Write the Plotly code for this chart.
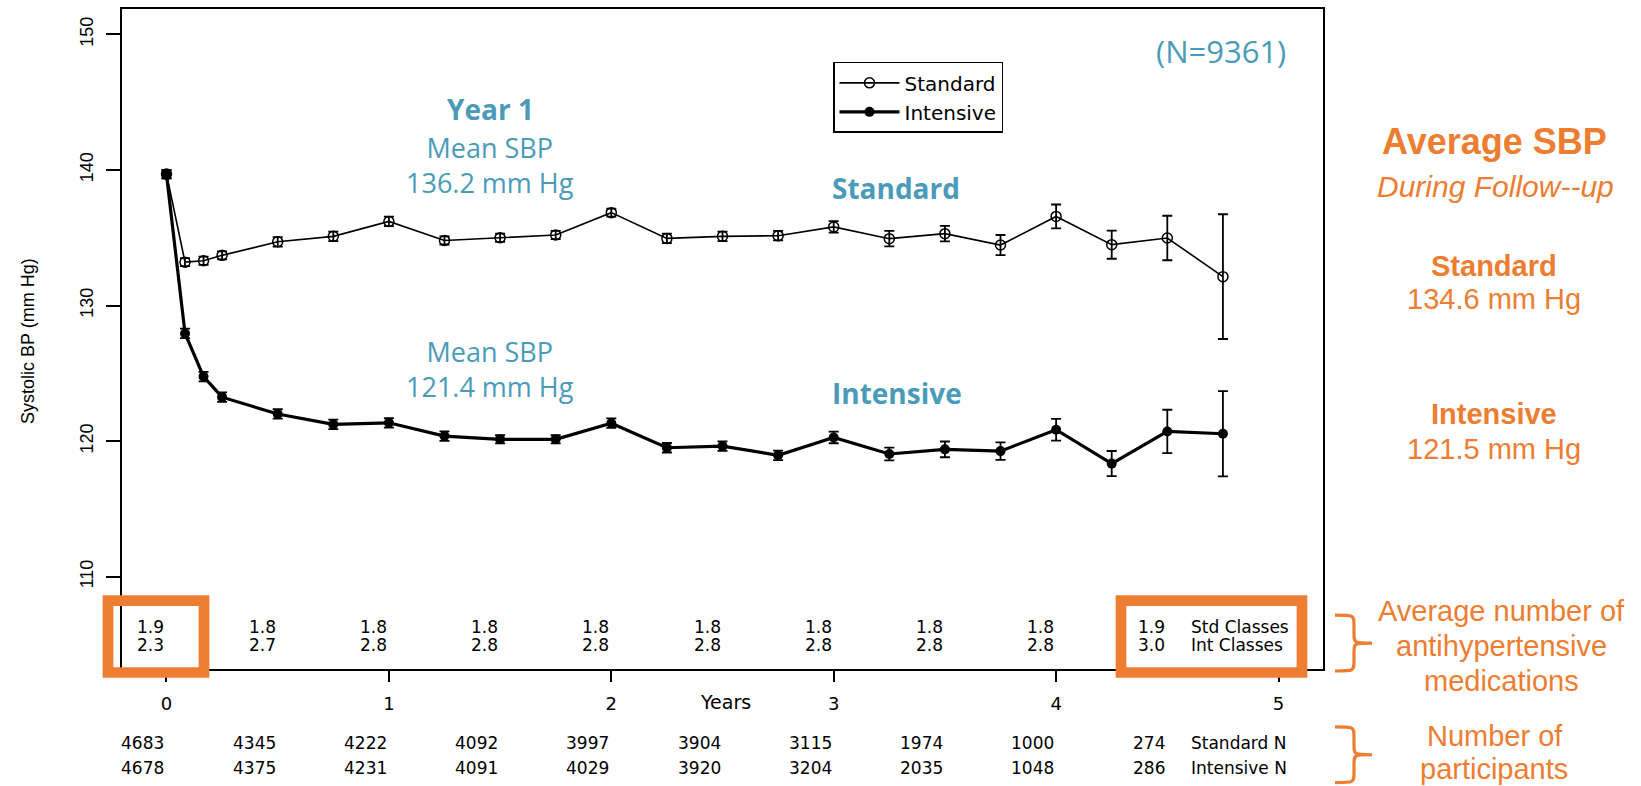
import plotly.graph_objects as go

# ---------------- data ----------------
years = [0, 1/12, 2/12, 3/12, 0.5, 0.75, 1.0, 1.25, 1.5, 1.75, 2.0, 2.25,
         2.5, 2.75, 3.0, 3.25, 3.5, 3.75, 4.0, 4.25, 4.5, 4.75]
standard_sbp = [139.7, 133.2, 133.3, 133.7, 134.7, 135.1, 136.2, 134.8, 135.0, 135.2, 136.85, 134.95,
                135.1, 135.15, 135.8, 134.93, 135.3, 134.46, 136.57, 134.49, 134.98, 132.13]
standard_err = [0.3, 0.3, 0.3, 0.3, 0.35, 0.35, 0.35, 0.3, 0.3, 0.3, 0.3, 0.35,
                0.35, 0.35, 0.43, 0.57, 0.57, 0.74, 0.88, 1.04, 1.64, 4.6]
intensive_sbp = [139.66, 127.94, 124.76, 123.24, 122.0, 121.23, 121.35, 120.37, 120.13, 120.13, 121.32, 119.51,
                 119.63, 118.95, 120.27, 119.05, 119.39, 119.26, 120.84, 118.34, 120.71, 120.54]
intensive_err = [0.3, 0.35, 0.35, 0.35, 0.35, 0.35, 0.35, 0.35, 0.3, 0.3, 0.35, 0.35,
                 0.35, 0.35, 0.43, 0.47, 0.58, 0.65, 0.8, 0.93, 1.6, 3.14]

label_years = [0, 0.5, 1.0, 1.5, 2.0, 2.5, 3.0, 3.5, 4.0, 4.5]
std_classes = ["1.9", "1.8", "1.8", "1.8", "1.8", "1.8", "1.8", "1.8", "1.8", "1.9"]
int_classes = ["2.3", "2.7", "2.8", "2.8", "2.8", "2.8", "2.8", "2.8", "2.8", "3.0"]
standard_n = ["4683", "4345", "4222", "4092", "3997", "3904", "3115", "1974", "1000", "274"]
intensive_n = ["4678", "4375", "4231", "4091", "4029", "3920", "3204", "2035", "1048", "286"]

x_ticks = [0, 1, 2, 3, 4, 5]
y_ticks = [110, 120, 130, 140, 150]

# ---------------- layout helpers ----------------
W_FIG, H_FIG = 1641, 786
L, R, T, B = 122, 1323, 7, 669
PW, PH = R - L, B - T

def px(x):
    return (x - L) / PW

def py(y):
    return (B - y) / PH

BLUE = "#4a9bb9"
ORANGE = "#ed7d31"
R_FONT = "Liberation Sans, Arial, sans-serif"
WIDE_FONT = "DejaVu Sans, sans-serif"
BLUE_FONT = "Open Sans, Noto Sans, sans-serif"

fig = go.Figure()

fig.add_trace(go.Scatter(
    x=years, y=standard_sbp, name="Standard", mode="lines+markers",
    line=dict(color="black", width=1.6),
    marker=dict(symbol="circle-open", size=10, color="black", line=dict(width=1.5, color="black")),
    error_y=dict(type="data", array=standard_err, color="black", thickness=1.8, width=5),
))
fig.add_trace(go.Scatter(
    x=years, y=intensive_sbp, name="Intensive", mode="lines+markers",
    line=dict(color="black", width=3.2),
    marker=dict(symbol="circle", size=10, color="black"),
    error_y=dict(type="data", array=intensive_err, color="black", thickness=1.8, width=5),
))

annotations = []

def ann(text, x, y, size, color, family, xanchor="center", xref="paper", textangle=0):
    annotations.append(dict(
        text=text, x=x if xref != "paper" else px(x), y=py(y), xref=xref, yref="paper",
        xanchor=xanchor, yanchor="middle", showarrow=False, textangle=textangle,
        font=dict(size=size, color=color, family=family),
    ))

# medication classes and N rows (right-aligned at each half-year)
for xv, s, i in zip(label_years, std_classes, int_classes):
    ann(s, xv, 627, 17, "black", WIDE_FONT, xanchor="right", xref="x")
    ann(i, xv, 645, 17, "black", WIDE_FONT, xanchor="right", xref="x")
for xv, s, i in zip(label_years, standard_n, intensive_n):
    ann(s, xv, 743, 17, "black", WIDE_FONT, xanchor="right", xref="x")
    ann(i, xv, 768, 17, "black", WIDE_FONT, xanchor="right", xref="x")

ann("Std Classes", 1189, 627, 17, "black", WIDE_FONT, xanchor="left")
ann("Int Classes", 1189, 645, 17, "black", WIDE_FONT, xanchor="left")
ann("Standard N", 1189, 743, 17, "black", WIDE_FONT, xanchor="left")
ann("Intensive N", 1189, 768, 17, "black", WIDE_FONT, xanchor="left")
ann("Years", 725, 702, 19, "black", WIDE_FONT)

ann("Systolic BP (mm Hg)", 28, 340, 18, "black", R_FONT, textangle=-90)

# blue annotations in plot
ann("<b>Year 1</b>", 490, 107, 28, BLUE, BLUE_FONT)
ann("Mean SBP<br>136.2 mm Hg", 490, 163, 27, BLUE, BLUE_FONT)
ann("Mean SBP<br>121.4 mm Hg", 490, 368, 27, BLUE, BLUE_FONT)
ann("<b>Standard</b>", 896, 187, 28, BLUE, BLUE_FONT)
ann("<b>Intensive</b>", 897, 392, 28, BLUE, BLUE_FONT)
ann("(N=9361)", 1221, 49, 31, BLUE, BLUE_FONT)

# orange side column
ann("<b>Average SBP</b>", 1494, 140, 36, ORANGE, R_FONT)
ann("<i>During Follow--up</i>", 1495, 185, 30, ORANGE, R_FONT)
ann("<b>Standard</b>", 1494, 265, 29, ORANGE, R_FONT)
ann("134.6 mm Hg", 1494, 298, 29, ORANGE, R_FONT)
ann("<b>Intensive</b>", 1494, 413, 29, ORANGE, R_FONT)
ann("121.5 mm Hg", 1494, 448, 29, ORANGE, R_FONT)
ann("Average number of", 1501, 611, 29, ORANGE, R_FONT)
ann("antihypertensive", 1501, 646, 29, ORANGE, R_FONT)
ann("medications", 1501, 681, 29, ORANGE, R_FONT)
ann("Number of", 1495, 736, 29, ORANGE, R_FONT)
ann("participants", 1494, 769, 29, ORANGE, R_FONT)

# shapes: orange highlight boxes and braces
shapes = []
for (x0, x1) in [(108, 204), (1121, 1302)]:
    shapes.append(dict(type="rect", xref="paper", yref="paper",
                       x0=px(x0), x1=px(x1), y0=py(600.5), y1=py(672.5),
                       line=dict(color=ORANGE, width=10.7), fillcolor="rgba(0,0,0,0)", layer="above"))

def brace(x0, xs, xt, y0, y1):
    ym = (y0 + y1) / 2
    r = 10
    pts = [
        f"M {px(x0)},{py(y0)}",
        f"C {px(xs)},{py(y0)} {px(xs)},{py(y0)} {px(xs)},{py(y0 + r)}",
        f"L {px(xs)},{py(ym - r)}",
        f"C {px(xs)},{py(ym)} {px(xs)},{py(ym)} {px(xt)},{py(ym)}",
        f"C {px(xs)},{py(ym)} {px(xs)},{py(ym)} {px(xs)},{py(ym + r)}",
        f"L {px(xs)},{py(y1 - r)}",
        f"C {px(xs)},{py(y1)} {px(xs)},{py(y1)} {px(x0)},{py(y1)}",
    ]
    return dict(type="path", xref="paper", yref="paper", path=" ".join(pts),
                line=dict(color=ORANGE, width=3.2), layer="above")

shapes.append(brace(1335, 1354, 1372, 615, 671))
shapes.append(brace(1335, 1354, 1372, 727, 783))

fig.update_layout(
    width=W_FIG, height=H_FIG,
    margin=dict(l=L, r=W_FIG - R, t=T, b=H_FIG - B),
    plot_bgcolor="white", paper_bgcolor="white",
    showlegend=True,
    legend=dict(x=px(833), y=py(60), xanchor="left", yanchor="top",
                bordercolor="black", borderwidth=1.5, bgcolor="white",
                font=dict(family=WIDE_FONT, size=20, color="black"),
                itemwidth=60, tracegroupgap=0),
    xaxis=dict(range=[-0.2, 5.2], tickvals=x_ticks, ticks="outside", ticklen=11, tickwidth=1.5,
               tickcolor="black", showline=True, linewidth=1.5, linecolor="black", mirror=True,
               showgrid=False, zeroline=False, ticklabelstandoff=7,
               tickfont=dict(family=WIDE_FONT, size=18, color="black")),
    yaxis=dict(range=[103.19, 151.87], tickvals=y_ticks, ticks="outside", ticklen=14, tickwidth=1.5,
               tickcolor="black", showline=True, linewidth=1.5, linecolor="black", mirror=True,
               showgrid=False, zeroline=False, tickangle=-90, ticklabelstandoff=6,
               tickfont=dict(family=R_FONT, size=18, color="black")),
    annotations=annotations,
    shapes=shapes,
)

fig.write_html("out.html", config={"displayModeBar": False},
               post_script="document.body.style.margin='0';document.body.style.overflow='hidden';")
